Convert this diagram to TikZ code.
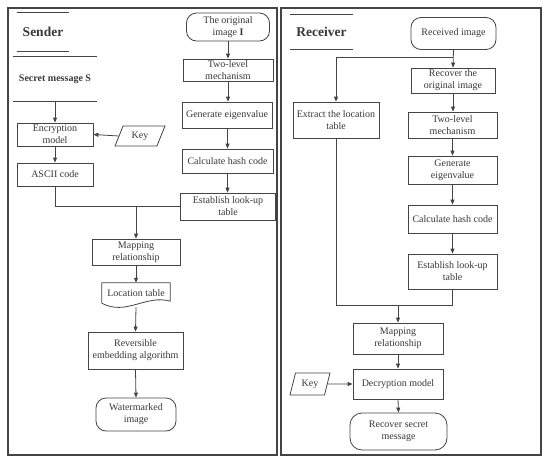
\documentclass[tikz,border=0pt]{standalone}
\usepackage{fontspec}
\setmainfont{Liberation Serif}
\usepackage{tikz}
\usetikzlibrary{arrows.meta,shapes.geometric,calc}
\definecolor{linecol}{HTML}{444444}
\definecolor{textcol}{HTML}{383838}

\begin{document}
\begin{tikzpicture}[x=1pt, y=-1pt,
    box/.style={draw=linecol, line width=0.8pt, fill=white, align=center, text=textcol, inner xsep=1pt, inner ysep=0pt, font=\fontsize{10}{12}\selectfont},
    term/.style={box, rounded corners=10pt},
    keybox/.style={box, trapezium, trapezium stretches=true, trapezium left angle=63, trapezium right angle=117},
    title/.style={text=textcol, inner sep=0pt, font=\fontsize{13.5}{16}\selectfont\bfseries},
    rule/.style={draw=linecol, line width=0.8pt},
    panel/.style={draw=linecol, line width=1.1pt},
    arr/.style={-{Triangle[length=5pt,width=4pt]}, draw=linecol, line width=0.8pt},
    line/.style={draw=linecol, line width=0.8pt}
]
\useasboundingbox (0,0) rectangle (550,464);
\draw[panel] (8,8) rectangle (277,455);
\draw[panel] (281,8) rectangle (541,455);

\node[title, minimum width=52, minimum height=38] (sender) at (43,32) {Sender};
\draw[rule] (sender.north west) -- (sender.north east);
\draw[rule] (sender.south west) -- (sender.south east);
\node[title, minimum width=84, minimum height=44, font=\fontsize{10}{12}\selectfont\bfseries] (msg) at (55,79) {Secret message S};
\draw[rule] (msg.north west) -- (msg.north east);
\draw[rule] (msg.south west) -- (msg.south east);

\node[box, minimum width=76, minimum height=23] (enc) at (55,134.5) {Encryption\\model};
\node[keybox, minimum width=50, minimum height=20] (key1) at (140,136) {Key};
\node[box, minimum width=76, minimum height=23] (ascii) at (55,174.5) {ASCII code};

\node[term, minimum width=83, minimum height=28] (orig) at (228,27) {The original\\image \textbf{I}};
\node[box, minimum width=90, minimum height=22] (two1) at (228,70) {Two-level\\mechanism};
\node[box, minimum width=90, minimum height=26] (gen1) at (227,115) {Generate eigenvalue};
\node[box, minimum width=91, minimum height=24] (hash1) at (227.5,161) {Calculate hash code};
\node[box, minimum width=95, minimum height=27] (est1) at (228,206.5) {Establish look-up\\table};

\node[box, minimum width=88, minimum height=26] (map1) at (136,252) {Mapping\\relationship};
\node[inner sep=0pt, minimum width=68, minimum height=20, text=textcol, font=\fontsize{10}{12}\selectfont] (loc) at (136,293) {Location table};
\draw[line] (loc.south west) -- (loc.north west) -- (loc.north east) -- ($(loc.south east)+(0,-2)$)
    .. controls ($(loc.south east)+(-24,-9)$) and ($(loc.south west)+(24,13)$) .. (loc.south west);
\coordinate (locb) at ($(loc.south)+(0,4)$);
\node[box, minimum width=95, minimum height=37] (emb) at (135.5,350.5) {Reversible\\embedding algorithm};
\node[term, minimum width=80, minimum height=33] (wm) at (136,414.5) {Watermarked\\image};

\draw[arr] (msg.south) -- (enc.north);
\draw[arr] (key1.west) -- (enc.east);
\draw[arr] (enc.south) -- (ascii.north);
\draw[arr] (orig.south) -- (two1.north);
\draw[arr] (two1.south) -- (two1.south |- gen1.north);
\draw[arr] (gen1.south) -- (gen1.south -| hash1.north) -- (hash1.north);
\draw[arr] (hash1.south) -- (hash1.south |- est1.north);
\draw[line] (ascii.south) |- (est1.west);
\draw[arr] (map1.north |- est1.west) -- (map1.north);
\draw[arr] (map1.south) -- (loc.north);
\draw[arr] (locb) -- (emb.north);
\draw[arr] (emb.south) -- (wm.north);

\node[title, minimum width=63, minimum height=34] (receiver) at (321.5,32) {Receiver};
\draw[rule] (receiver.north west) -- (receiver.north east);
\draw[rule] (receiver.south west) -- (receiver.south east);

\node[term, minimum width=85, minimum height=32] (recv) at (453.5,33.5) {Received image};
\node[box, minimum width=84, minimum height=25] (rec) at (453,80.5) {Recover the\\original image};
\node[box, minimum width=86, minimum height=36] (ext) at (336,120) {Extract the location\\table};
\node[box, minimum width=89, minimum height=26] (two2) at (452.5,125) {Two-level\\mechanism};
\node[box, minimum width=89, minimum height=28] (gen2) at (452.5,170) {Generate\\eigenvalue};
\node[box, minimum width=89, minimum height=28] (hash2) at (452.5,219) {Calculate hash code};
\node[box, minimum width=89, minimum height=35] (est2) at (452.5,271.5) {Establish look-up\\table};
\node[box, minimum width=90, minimum height=31] (map2) at (398,338.5) {Mapping\\relationship};
\node[box, minimum width=90, minimum height=30] (dec) at (398,384) {Decryption model};
\node[keybox, minimum width=40, minimum height=22, trapezium left angle=68, trapezium right angle=112] (key2) at (310,384) {Key};
\node[term, minimum width=97, minimum height=37, rounded corners=12pt] (rsm) at (398.5,431.5) {Recover secret\\message};

\coordinate (split) at (453,57);
\coordinate (merge) at (336,305);
\draw[arr] (recv.south) -- (rec.north);
\draw[arr] (split) -| (ext.north);
\draw[arr] (rec.south) -- (rec.south |- two2.north);
\draw[arr] (two2.south) -- (gen2.north);
\draw[arr] (gen2.south) -- (hash2.north);
\draw[arr] (hash2.south) -- (est2.north);
\draw[line] (ext.south) -- (merge) -| (est2.south);
\draw[arr] (map2.north |- merge) -- (map2.north);
\draw[arr] (map2.south) -- (dec.north);
\draw[arr] (key2.east) -- (dec.west);
\draw[arr] (dec.south) -- (rsm.north);
\end{tikzpicture}
\end{document}
